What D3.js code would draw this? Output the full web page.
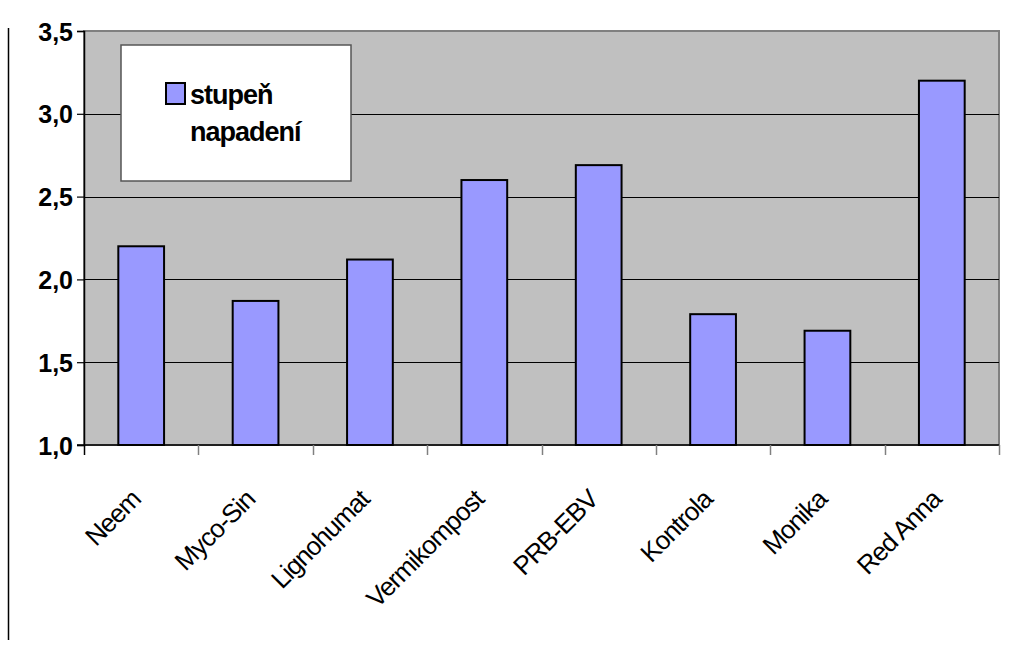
<!DOCTYPE html>
<html lang="cs">
<head>
<meta charset="UTF-8">
<title>Stupeň napadení</title>
<style>
  body { margin: 0; background: #fff; }
  svg { display: block; font-family: "Liberation Sans", Arial, sans-serif; }
  .ylab { font-size: 25px; font-weight: bold; }
  .xlab { font-size: 26px; letter-spacing: -1px; }
  .leg { font-size: 27px; font-weight: bold; letter-spacing: -1px; }
</style>
</head>
<body>
<div id="chart"></div>
<script src="https://d3js.org/d3.v7.min.js"></script>
<script>
// data
var categories = ["Neem", "Myco-Sin", "Lignohumat", "Vermikompost", "PRB-EBV", "Kontrola", "Monika", "Red Anna"];
var values = [2.2, 1.87, 2.12, 2.6, 2.69, 1.79, 1.69, 3.2];
var yTicks = [1.0, 1.5, 2.0, 2.5, 3.0, 3.5];
var seriesName = ["stupeň", "napadení"];

var width = 1010, height = 646;
var plotLeft = 84, plotRight = 999, plotTop = 31, plotBottom = 445;

var svg = d3.select("#chart").append("svg")
  .attr("width", width)
  .attr("height", height);

// page margin line on the left
svg.append("line")
  .attr("x1", 8.5).attr("x2", 8.5)
  .attr("y1", 28).attr("y2", 640)
  .attr("stroke", "#000").attr("stroke-width", 1.5);

var x = d3.scaleBand()
  .domain(categories)
  .range([plotLeft, plotRight])
  .paddingInner(0.6)
  .paddingOuter(0.3);

var y = d3.scaleLinear()
  .domain([1.0, 3.5])
  .range([plotBottom, plotTop]);

// plot area
svg.append("rect")
  .attr("x", plotLeft).attr("y", plotTop)
  .attr("width", plotRight - plotLeft).attr("height", plotBottom - plotTop)
  .attr("fill", "#c0c0c0")
  .attr("stroke", "#808080").attr("stroke-width", 2);

// gridlines
svg.selectAll(".grid")
  .data(yTicks.slice(1, -1))
  .enter().append("line")
  .attr("class", "grid")
  .attr("x1", plotLeft).attr("x2", plotRight)
  .attr("y1", function(d) { return Math.round(y(d)) + 0.5; })
  .attr("y2", function(d) { return Math.round(y(d)) + 0.5; })
  .attr("stroke", "#000").attr("stroke-width", 1.2);

// bars
svg.selectAll(".bar")
  .data(values)
  .enter().append("rect")
  .attr("class", "bar")
  .attr("x", function(d, i) { return x(categories[i]); })
  .attr("width", x.bandwidth())
  .attr("y", function(d) { return y(d); })
  .attr("height", function(d) { return y(1.0) - y(d); })
  .attr("fill", "#9999ff")
  .attr("stroke", "#000").attr("stroke-width", 2);

// y axis
var yAxis = d3.axisLeft(y)
  .tickValues(yTicks)
  .tickSize(7)
  .tickPadding(4)
  .tickFormat(function(d) { return d3.format(".1f")(d).replace(".", ","); });
var gy = svg.append("g")
  .attr("transform", "translate(" + plotLeft + ",0)")
  .call(yAxis);
gy.select(".domain").attr("stroke", "#000").attr("stroke-width", 1.5);
gy.selectAll(".tick line").attr("stroke", "#000").attr("stroke-width", 1.2);
gy.selectAll(".tick text")
  .attr("class", "ylab")
  .attr("fill", "#000")
  .attr("dy", "0.36em");
gy.attr("font-family", null).attr("font-size", null);

// x axis line and ticks at category boundaries
svg.append("line")
  .attr("x1", plotLeft - 7).attr("x2", plotRight)
  .attr("y1", plotBottom).attr("y2", plotBottom)
  .attr("stroke", "#000").attr("stroke-width", 1.5);
var bounds = d3.range(categories.length + 1).map(function(i) { return plotLeft + i * x.step(); });
svg.selectAll(".xtick")
  .data(bounds)
  .enter().append("line")
  .attr("class", "xtick")
  .attr("x1", function(d) { return Math.round(d) + 0.5; })
  .attr("x2", function(d) { return Math.round(d) + 0.5; })
  .attr("y1", plotBottom).attr("y2", plotBottom + 10)
  .attr("stroke", function(d, i) { return i === 0 ? "#000" : "#808080"; })
  .attr("stroke-width", 1.5);

// rotated category labels
svg.selectAll(".xlab")
  .data(categories)
  .enter().append("text")
  .attr("class", "xlab")
  .attr("text-anchor", "end")
  .attr("transform", function(d) {
    var cx = x(d) + x.bandwidth() / 2 + 1;
    return "translate(" + cx + "," + 501 + ") rotate(-45)";
  })
  .text(function(d) { return d; });

// legend
var legend = svg.append("g");
legend.append("rect")
  .attr("x", 121).attr("y", 45)
  .attr("width", 230).attr("height", 136)
  .attr("fill", "#fff")
  .attr("stroke", "#555").attr("stroke-width", 1.5);
legend.append("rect")
  .attr("x", 166).attr("y", 83)
  .attr("width", 19).attr("height", 21)
  .attr("fill", "#9999ff")
  .attr("stroke", "#000").attr("stroke-width", 2);
legend.selectAll(".leg")
  .data(seriesName)
  .enter().append("text")
  .attr("class", "leg")
  .attr("x", 190)
  .attr("y", function(d, i) { return 104 + i * 37; })
  .text(function(d) { return d; });
</script>
</body>
</html>
